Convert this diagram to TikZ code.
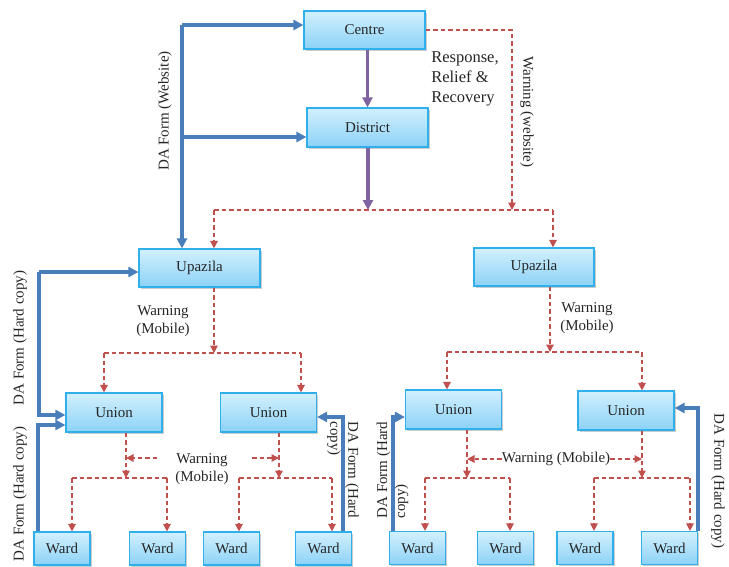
\documentclass[tikz,border=0pt]{standalone}
\usepackage{fontspec}
\setmainfont{Liberation Serif}
\usetikzlibrary{arrows.meta,shadows}
\definecolor{boxtop}{HTML}{D2F0FD}
\definecolor{boxbot}{HTML}{8CD2F7}
\definecolor{boxborder}{HTML}{2FB0EA}
\definecolor{txt}{HTML}{262626}
\definecolor{bl}{HTML}{4A7EBB}
\definecolor{rd}{HTML}{C0504D}
\definecolor{pu}{HTML}{8064A2}
\tikzset{
  box/.style={draw=boxborder, line width=1.2pt, top color=boxtop, bottom color=boxbot,
    inner sep=0pt, text=txt, font=\fontsize{15}{18}\selectfont,
    drop shadow={shadow xshift=1.5pt, shadow yshift=-1.8pt, fill=black, opacity=0.2}},
  bigbox/.style={box, minimum width=121pt, minimum height=38pt},
  unionbox/.style={box, minimum width=96pt, minimum height=39pt},
  wardbox/.style={box, minimum width=56pt, minimum height=33pt},
  lbl/.style={text=txt, inner sep=0pt, font=\fontsize{15}{18}\selectfont},
  bluearrow/.style={draw=bl, line width=3.3pt, -{Triangle[length=10pt,width=10pt]}},
  blueline/.style={draw=bl, line width=3.3pt},
  purparrow/.style={draw=pu, line width=3.3pt, -{Triangle[length=10pt,width=10pt]}},
  warnline/.style={draw=rd, line width=1.4pt, dash pattern=on 4.5pt off 3pt},
  warnarrow/.style={warnline, -{Triangle[length=7.5pt,width=7.5pt]}},
}
\begin{document}
\begin{tikzpicture}[x=1pt,y=-1pt]
\useasboundingbox (0,0) rectangle (729,566);
% nodes
\node[bigbox] (centre) at (364.5,30) {Centre};
\node[bigbox, minimum height=39pt] (district) at (367.5,127.5) {District};
\node[bigbox] (upL) at (199.5,268) {Upazila};
\node[bigbox, minimum width=120pt] (upR) at (534,267) {Upazila};
\node[unionbox] (unL1) at (114,412.5) {Union};
\node[unionbox] (unL2) at (268.5,412.5) {Union};
\node[unionbox] (unR1) at (453.5,409.5) {Union};
\node[unionbox] (unR2) at (626,410.5) {Union};
\node[wardbox] (w1) at (62,548.5) {Ward};
\node[wardbox] (w2) at (157.5,548.5) {Ward};
\node[wardbox] (w3) at (231.5,548.5) {Ward};
\node[wardbox] (w4) at (323.5,548.5) {Ward};
\node[wardbox] (w5) at (417.5,548) {Ward};
\node[wardbox] (w6) at (505.5,548) {Ward};
\node[wardbox] (w7) at (585,548) {Ward};
\node[wardbox] (w8) at (669.5,548) {Ward};
% labels
\node[lbl, rotate=90] (ldaw) at (165,111) {DA Form (Website)};
\node[lbl, rotate=-90] (lww) at (527,112) {Warning (website)};
\node[lbl, align=left, font=\fontsize{16.5}{20}\selectfont] (lrrr) at (465,79) {Response,\\Relief \&\\Recovery};
\node[lbl, align=center] (lm1) at (163,321) {Warning\\(Mobile)};
\node[lbl, align=center] (lm2) at (587,318) {Warning\\(Mobile)};
\node[lbl, align=center] (lm3) at (202,469) {Warning\\(Mobile)};
\node[lbl] (lm4) at (556,459) {Warning (Mobile)};
\node[lbl, rotate=90] (ldh1) at (20,338) {DA Form (Hard copy)};
\node[lbl, rotate=90] (ldh2) at (20,494) {DA Form (Hard copy)};
\node[lbl, rotate=-90, align=left] (ldh3) at (343,470) {DA Form (Hard\\copy)};
\node[lbl, rotate=90, align=left] (ldh4) at (392.5,470) {DA Form (Hard\\copy)};
\node[lbl, rotate=-90] (ldh5) at (718,481) {DA Form (Hard copy)};
% coordinates
\coordinate (hP) at (368,210);
\coordinate (wd) at (512,210);
\coordinate (hL) at (214,210);
\coordinate (hR) at (553,210);
\coordinate (bw) at (182,25);
\coordinate (bd) at (182,137);
\coordinate (uL) at (214,353);
\coordinate (uLa) at (104,353);
\coordinate (uLb) at (301,353);
\coordinate (uR) at (550,352);
\coordinate (uRa) at (447,352);
\coordinate (uRb) at (642,352);
\coordinate (nL1) at (126,478);
\coordinate (nL1a) at (72,478);
\coordinate (nL1b) at (167,478);
\coordinate (nL2) at (279,478);
\coordinate (nL2a) at (239,478);
\coordinate (nL2b) at (332,478);
\coordinate (nR1) at (467,478);
\coordinate (nR1a) at (425,478);
\coordinate (nR1b) at (510,478);
\coordinate (nR2) at (642,478);
\coordinate (nR2a) at (594,478);
\coordinate (nR2b) at (690,478);
\coordinate (m3a) at (157,458);
\coordinate (m3b) at (252,458);
\coordinate (c1) at (39,272);
\coordinate (c2) at (39,415);
\coordinate (c3) at (38,425);
\coordinate (c4) at (343,417);
\coordinate (c5) at (393,417);
\coordinate (c6) at (698,408);
% purple
\draw[purparrow] (district.north |- centre.south) -- (district.north);
\draw[purparrow] (district.south -| hP) -- (hP);
% red top
\draw[warnarrow] (centre.east) -| (wd);
\draw[warnline] (hL) -- (hR);
\draw[warnarrow] (hL) -- (upL.north -| hL);
\draw[warnarrow] (hR) -- (upR.north -| hR);
% blue website
\draw[blueline] (bd) -- (bw);
\draw[bluearrow] (bw) -- (bw -| centre.west);
\draw[bluearrow] (bd) -- (bd -| district.west);
\draw[bluearrow] (bd) -- (upL.north -| bw);
% upazila -> unions
\draw[warnarrow] (upL.south -| uL) -- (uL);
\draw[warnline] (uLa) -- (uLb);
\draw[warnarrow] (uLa) -- (unL1.north -| uLa);
\draw[warnarrow] (uLb) -- (unL2.north -| uLb);
\draw[warnarrow] (upR.south -| uR) -- (uR);
\draw[warnline] (uRa) -- (uRb);
\draw[warnarrow] (uRa) -- (unR1.north -| uRa);
\draw[warnarrow] (uRb) -- (unR2.north -| uRb);
% unions -> wards
\draw[warnarrow] (unL1.south -| nL1) -- (nL1);
\draw[warnline] (nL1a) -- (nL1b);
\draw[warnarrow] (nL1a) -- (w1.north -| nL1a);
\draw[warnarrow] (nL1b) -- (w2.north -| nL1b);
\draw[warnarrow] (unL2.south -| nL2) -- (nL2);
\draw[warnline] (nL2a) -- (nL2b);
\draw[warnarrow] (nL2a) -- (w3.north -| nL2a);
\draw[warnarrow] (nL2b) -- (w4.north -| nL2b);
\draw[warnarrow] (unR1.south -| nR1) -- (nR1);
\draw[warnline] (nR1a) -- (nR1b);
\draw[warnarrow] (nR1a) -- (w5.north -| nR1a);
\draw[warnarrow] (nR1b) -- (w6.north -| nR1b);
\draw[warnarrow] (unR2.south -| nR2) -- (nR2);
\draw[warnline] (nR2a) -- (nR2b);
\draw[warnarrow] (nR2a) -- (w7.north -| nR2a);
\draw[warnarrow] (nR2b) -- (w8.north -| nR2b);
% side warning arrows
\draw[warnarrow] (m3a) -- (m3a -| nL1);
\draw[warnarrow] (m3b) -- (m3b -| nL2);
\draw[warnarrow] (lm4.west) -- (lm4.west -| nR1);
\draw[warnarrow] (lm4.east) -- (lm4.east -| nR2);
% blue hard copy
\draw[bluearrow] (c1) -- (c1 -| upL.west);
\draw[bluearrow] (c1) -- (c2) -- (c2 -| unL1.west);
\draw[bluearrow] (w1.north -| c3) -- (c3) -- (c3 -| unL1.west);
\draw[bluearrow] (w4.north -| c4) -- (c4) -- (c4 -| unL2.east);
\draw[bluearrow] (w5.north -| c5) -- (c5) -- (c5 -| unR1.west);
\draw[bluearrow] (w8.north -| c6) -- (c6) -- (c6 -| unR2.east);
\end{tikzpicture}
\end{document}
